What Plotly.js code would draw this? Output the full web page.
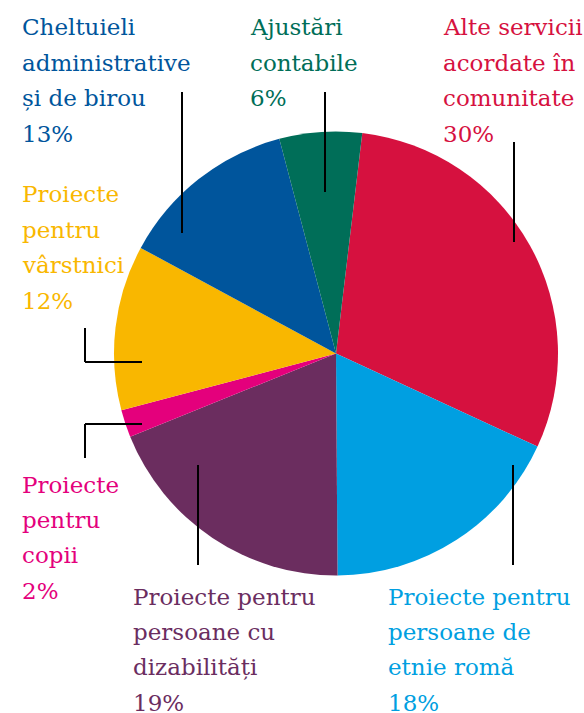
<!DOCTYPE html>
<html>
<head>
<meta charset="utf-8">
<script src="https://cdn.plot.ly/plotly-3.0.1.min.js"></script>
<style>html,body{margin:0;padding:0;background:#fff;}#chart{width:584px;height:713px;}</style>
</head>
<body>
<div id="chart"></div>
<script>
// Data
var categories = [
  "Alte servicii acordate în comunitate",
  "Proiecte pentru persoane de etnie romă",
  "Proiecte pentru persoane cu dizabilități",
  "Proiecte pentru copii",
  "Proiecte pentru vârstnici",
  "Cheltuieli administrative și de birou",
  "Ajustări contabile"
];
var values = [30, 18, 19, 2, 12, 13, 6];
var labelLines = [
  ["Alte servicii", "acordate în", "comunitate", "30%"],
  ["Proiecte pentru", "persoane de", "etnie romă", "18%"],
  ["Proiecte pentru", "persoane cu", "dizabilități", "19%"],
  ["Proiecte", "pentru", "copii", "2%"],
  ["Proiecte", "pentru", "vârstnici", "12%"],
  ["Cheltuieli", "administrative", "și de birou", "13%"],
  ["Ajustări", "contabile", "6%"]
];
var colors = ["#D6113F", "#009FE1", "#6B2D5F", "#E4007C", "#F9B700", "#00559C", "#006E58"];

// Layout helpers (pixel positions of label blocks and leader lines)
var W = 584, H = 713;
function px(x) { return x / W; }
function py(y) { return 1 - y / H; }

var labelPos = [
  {x: 443, y: 36},
  {x: 388, y: 605},
  {x: 133, y: 605},
  {x: 22, y: 493},
  {x: 22, y: 203},
  {x: 22, y: 36},
  {x: 250, y: 36}
];
var lineStep = 35.4;
var fontSize = 23;
var fontFamily = "DejaVu Serif";

var annotations = [];
labelLines.forEach(function (lines, i) {
  lines.forEach(function (t, j) {
    var base = labelPos[i].y + j * lineStep;
    annotations.push({
      xref: 'paper', yref: 'paper',
      x: px(labelPos[i].x - 2), y: py(base - 8.5),
      xanchor: 'left', yanchor: 'middle',
      text: t, showarrow: false,
      font: {family: fontFamily, size: fontSize, color: colors[i]}
    });
  });
});

var leaders = [
  [[514, 142], [514, 242]],
  [[513, 465], [513, 565]],
  [[198, 465], [198, 565]],
  [[85, 424], [142, 424], [85, 424], [85, 458]],
  [[85, 328], [85, 362], [85, 362], [142, 362]],
  [[182, 92], [182, 233]],
  [[325, 92], [325, 192]]
];
var shapes = [];
leaders.forEach(function (pts) {
  for (var k = 0; k < pts.length; k += 2) {
    shapes.push({
      type: 'line', xref: 'paper', yref: 'paper', layer: 'above',
      x0: px(pts[k][0]), y0: py(pts[k][1]), x1: px(pts[k + 1][0]), y1: py(pts[k + 1][1]),
      line: {color: '#000', width: 2}
    });
  }
});

var cx = 336, cy = 353.5, r = 222;
var trace = {
  type: 'pie',
  labels: categories,
  values: values,
  sort: false,
  direction: 'clockwise',
  rotation: 6.8,
  marker: {colors: colors, line: {width: 0}},
  textinfo: 'none',
  hoverinfo: 'none',
  showlegend: false,
  domain: {x: [px(cx - r), px(cx + r)], y: [py(cy + r), py(cy - r)]}
};

var layout = {
  width: W, height: H,
  margin: {l: 0, r: 0, t: 0, b: 0},
  paper_bgcolor: '#fff',
  showlegend: false,
  font: {family: fontFamily},
  annotations: annotations,
  shapes: shapes
};
Plotly.newPlot('chart', [trace], layout, {displayModeBar: false, staticPlot: true});
</script>
</body>
</html>
